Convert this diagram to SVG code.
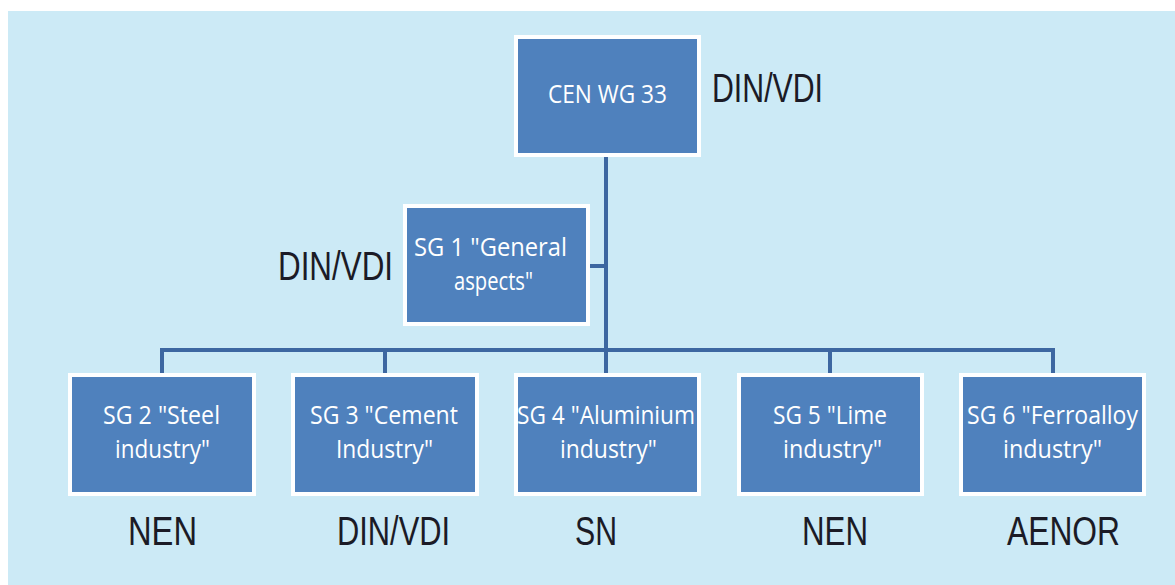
<svg xmlns="http://www.w3.org/2000/svg" width="1175" height="585" viewBox="0 0 1175 585">
  <style>
    .box { fill: #4f81bd; stroke: #ffffff; stroke-width: 4; }
    .bt { fill: #ffffff; font-family: "Open Sans", "Liberation Sans", sans-serif; font-size: 25px; text-anchor: middle; }
    .lbl { fill: #1b1b26; font-family: "Liberation Sans", Arial, sans-serif; font-size: 40px; }
    .wire { fill: none; stroke: #3d67a1; stroke-width: 4; }
  </style>
  <rect x="0" y="0" width="1175" height="585" fill="#ffffff"/>
  <rect x="8" y="11" width="1167" height="574" fill="#cceaf6"/>

  <g id="connectors">
    <path class="wire" d="M606 155 V374"/>
    <path class="wire" d="M590 266 H606"/>
    <path class="wire" d="M162 374 V350 H1053 V374"/>
    <path class="wire" d="M385 350 V374"/>
    <path class="wire" d="M830 350 V374"/>
  </g>

  <g id="cen-wg33">
    <rect class="box" x="516" y="37" width="183" height="118"/>
    <text class="bt" x="607.5" y="103" font-size="28" textLength="119" lengthAdjust="spacingAndGlyphs">CEN WG 33</text>
    <text class="lbl" x="712" y="102" textLength="111" lengthAdjust="spacingAndGlyphs">DIN/VDI</text>
  </g>

  <g id="sg1">
    <rect class="box" x="405" y="206" width="183" height="118"/>
    <text class="bt" x="490.5" y="256" textLength="153" lengthAdjust="spacingAndGlyphs">SG 1 "General</text>
    <text class="bt" x="493.5" y="290" textLength="79" lengthAdjust="spacingAndGlyphs">aspects"</text>
    <text class="lbl" x="278" y="280" textLength="115" lengthAdjust="spacingAndGlyphs">DIN/VDI</text>
  </g>

  <g id="sg2">
    <rect class="box" x="70" y="375" width="184" height="119"/>
    <text class="bt" x="161.5" y="424" textLength="117" lengthAdjust="spacingAndGlyphs">SG 2 "Steel</text>
    <text class="bt" x="162.5" y="458" textLength="95" lengthAdjust="spacingAndGlyphs">industry"</text>
    <text class="lbl" x="128" y="545" textLength="69" lengthAdjust="spacingAndGlyphs">NEN</text>
  </g>

  <g id="sg3">
    <rect class="box" x="293" y="375" width="184" height="119"/>
    <text class="bt" x="384" y="424" textLength="148" lengthAdjust="spacingAndGlyphs">SG 3 "Cement</text>
    <text class="bt" x="384.5" y="458" textLength="97" lengthAdjust="spacingAndGlyphs">Industry"</text>
    <text class="lbl" x="337" y="545" textLength="113" lengthAdjust="spacingAndGlyphs">DIN/VDI</text>
  </g>

  <g id="sg4">
    <rect class="box" x="516" y="375" width="183" height="119"/>
    <text class="bt" x="606" y="424" textLength="178" lengthAdjust="spacingAndGlyphs">SG 4 "Aluminium</text>
    <text class="bt" x="608.5" y="458" textLength="97" lengthAdjust="spacingAndGlyphs">industry"</text>
    <text class="lbl" x="575" y="545" textLength="42" lengthAdjust="spacingAndGlyphs">SN</text>
  </g>

  <g id="sg5">
    <rect class="box" x="739" y="375" width="183" height="119"/>
    <text class="bt" x="830" y="424" textLength="114" lengthAdjust="spacingAndGlyphs">SG 5 "Lime</text>
    <text class="bt" x="832.5" y="458" textLength="99" lengthAdjust="spacingAndGlyphs">industry"</text>
    <text class="lbl" x="802" y="545" textLength="66" lengthAdjust="spacingAndGlyphs">NEN</text>
  </g>

  <g id="sg6">
    <rect class="box" x="961" y="375" width="183" height="119"/>
    <text class="bt" x="1052.5" y="424" textLength="171" lengthAdjust="spacingAndGlyphs">SG 6 "Ferroalloy</text>
    <text class="bt" x="1052.5" y="458" textLength="99" lengthAdjust="spacingAndGlyphs">industry"</text>
    <text class="lbl" x="1007" y="545" textLength="113" lengthAdjust="spacingAndGlyphs">AENOR</text>
  </g>
</svg>
